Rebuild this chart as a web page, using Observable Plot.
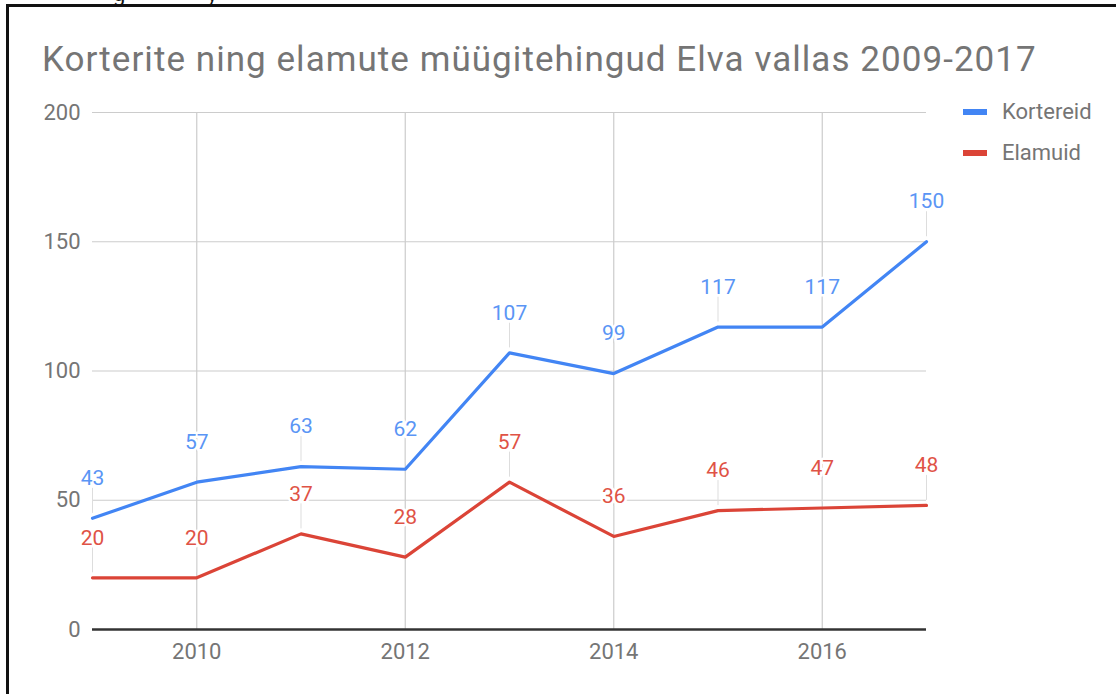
<!DOCTYPE html>
<html>
<head>
<meta charset="utf-8">
<script src="https://cdn.jsdelivr.net/npm/d3@7"></script>
<script src="https://cdn.jsdelivr.net/npm/@observablehq/plot@0.6"></script>
<style>
  html, body { margin: 0; padding: 0; background: #fff; }
  body { width: 1116px; height: 694px; position: relative; overflow: hidden; font-family: Roboto, "Noto Sans", sans-serif; }
  #frame { position: absolute; left: 6px; top: 4px; width: 1120px; height: 700px; border-top: 3px solid #111; border-left: 3px solid #111; }
  #cut { position: absolute; top: -19px; left: 0; font-size: 22px; color: #111; }
  #title { position: absolute; left: 42px; top: 40px; font-size: 35px; letter-spacing: 1.05px; color: #757575; white-space: nowrap; line-height: 40px; }
  #chart { position: absolute; left: 0; top: 90px; }
  .leg { position: absolute; left: 963px; font-size: 22px; color: #757575; line-height: 22px; }
  .leg .sw { position: absolute; left: 0; width: 24px; height: 6px; top: 8px; }
  .leg .lab { position: absolute; left: 39px; top: 0; white-space: nowrap; }
</style>
</head>
<body>
<div id="cut"><span style="position:absolute;left:113px">g</span><span style="position:absolute;left:207px">y</span></div>
<div id="frame"></div>
<div id="title">Korterite ning elamute müügitehingud Elva vallas 2009-2017</div>
<div id="chart"></div>
<div id="legend"></div>
<script>
const years = [2009, 2010, 2011, 2012, 2013, 2014, 2015, 2016, 2017];
const kortereid = [43, 57, 63, 62, 107, 99, 117, 117, 150];
const elamuid = [20, 20, 37, 28, 57, 36, 46, 47, 48];
const seriesNames = ["Kortereid", "Elamuid"];
const seriesColors = ["#4285F4", "#DB4437"];
const labelColors = ["#5a95f5", "#df5346"];
const xTicks = [2010, 2012, 2014, 2016];
const yTicks = [0, 50, 100, 150, 200];

const rows = [];
[kortereid, elamuid].forEach((vals, s) => {
  years.forEach((yr, i) => rows.push({year: yr, value: vals[i], series: seriesNames[s], lc: labelColors[s]}));
});

const chart = Plot.plot({
  width: 1116,
  height: 604,
  marginTop: 22,
  marginBottom: 65,
  marginLeft: 92,
  marginRight: 190,
  style: {fontFamily: "Roboto, sans-serif", fontSize: "22px", color: "#757575", background: "transparent"},
  x: {domain: [2009, 2017], ticks: xTicks, tickFormat: d => String(d), tickSize: 0, tickPadding: 14, label: null},
  y: {domain: [0, 200], ticks: yTicks, tickSize: 0, tickPadding: 12, label: null},
  color: {domain: seriesNames, range: seriesColors},
  marks: [
    Plot.gridX(xTicks, {stroke: "#cccccc", strokeOpacity: 1, strokeWidth: 1.2}),
    Plot.gridY(yTicks.filter(d => d > 0), {stroke: "#cccccc", strokeOpacity: 1, strokeWidth: 1.2}),
    Plot.ruleX(rows, {x: "year", y1: "value", y2: "value", insetTop: -5, insetBottom: 30, stroke: "#dddddd", strokeWidth: 1}),
    Plot.ruleY([0], {stroke: "#333333", strokeWidth: 2.5}),
    Plot.line(rows, {x: "year", y: "value", z: "series", stroke: "series", strokeWidth: 3.2}),
    Plot.text(rows, {x: "year", y: "value", text: d => String(d.value), dy: -40, fill: "lc", stroke: "white", strokeWidth: 5, paintOrder: "stroke", fontSize: 21})
  ]
});
document.getElementById("chart").appendChild(chart);

const legend = document.getElementById("legend");
const legTops = [101, 142];
seriesNames.forEach((name, i) => {
  const item = document.createElement("div");
  item.className = "leg";
  item.style.top = legTops[i] + "px";
  item.innerHTML = `<span class="sw" style="background:${seriesColors[i]}"></span><span class="lab">${name}</span>`;
  legend.appendChild(item);
});
</script>
</body>
</html>
